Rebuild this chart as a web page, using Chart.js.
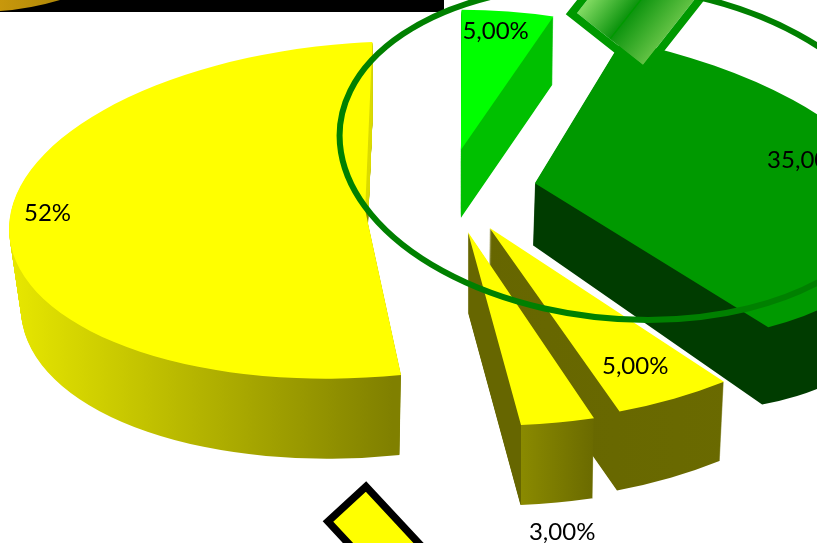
<!DOCTYPE html>
<html>
<head>
<meta charset="utf-8">
<style>
html,body{margin:0;padding:0;background:#fff;overflow:hidden}
#wrap{position:relative;width:817px;height:543px}
</style>
<script src="https://cdn.jsdelivr.net/npm/chart.js@4/dist/chart.umd.js"></script>
</head>
<body>
<div id="wrap"><canvas id="c" width="817" height="543"></canvas></div>
<script>
// ---- data (clockwise from 12 o'clock) ----
const categories = ["Verde claro", "Verde", "Amarillo A", "Amarillo B", "Amarillo C"];
const values = [5, 35, 5, 3, 52];
const valueLabels = ["5,00%", "35,00%", "5,00%", "3,00%", "52%"];

// ---- styles ----
const topColors = ["#00ff00", "#009900", "#ffff00", "#ffff00", "#ffff00"];
const explode = [408, 364, 400, 420, 320];
const paintOrder = [0, 1, 4, 2, 3];
const wallDepth = [68, 62, 79, 80, 80];
const wallStops = [
  [[0, "#00c000"], [900, "#00c000"]],
  [[0, "#003c00"], [900, "#003c00"]],
  [[480, "#666600"], [730, "#6a6a00"]],
  [[468, "#666600"], [520, "#666600"], [520, "#8a8a00"], [596, "#696900"]],
  [[10, "#e8e800"], [400, "#808000"]]
];
const backWall = [null, null, null, null, "#dcdc00"];
// 3D projection of each slice: where the local "right" and "up" unit radii land on screen
const sliceRight = [[301, 0], [361, 26], [385, -8], [408, 5], [356, -15]];
const sliceUp = [[0, -140], [-26, -159], [-11, -196], [-1, -194], [8, -168]];
const sliceNudge = [[0, 0], [0, -1], [-1, 2], [0, 1], [0, 18]];
// same, for the lower rim of each wall (perspective)
const floorRight = [[298, 0], [354, 52], [380, -8], [404, 5], [344, -15]];
const floorShiftX = [0, -2, -1, 0, 0];
const tilt = 0.4;
const baseR = 400;
const edgeTrimRate = 0.00037; // compensates the slight narrowing of offset arcs
const labelRadial = [0.8, 0.77, 0.79, 1.57, 0.89];
const labelNudge = [[-3, -8], [1, -24], [0, 4], [-47, 1], [-1, -19]];
const labelFont = "24px Lato, Carlito, 'Open Sans', sans-serif";

function sliceGeom(arc, i) {
  const half = (arc.startAngle + arc.endAngle) / 2;
  const e = explode[i] / 4;
  const dx = Math.cos(half) * e, dy = Math.sin(half) * e;
  return {
    half, dx, dy, e,
    ax: arc.x + dx + sliceNudge[i][0],
    ay: arc.y + dy * tilt + sliceNudge[i][1]
  };
}

function paintArc(ctx, arc, i, geo, fill, shiftX, shiftY, a) {
  const b = sliceUp[i];
  ctx.save();
  ctx.translate(geo.ax + shiftX, geo.ay + shiftY);
  ctx.transform(a[0] / baseR, a[1] / baseR, -b[0] / baseR, -b[1] / baseR, 0, 0);
  ctx.translate(-(arc.x + geo.dx), -(arc.y + geo.dy));
  const saved = arc.options;
  arc.options = {
    offset: explode[i], spacing: 0, borderWidth: 0, borderAlign: "center", circular: true,
    borderRadius: 0, backgroundColor: fill, borderColor: fill, borderDash: [], borderDashOffset: 0,
    borderJoinStyle: "round"
  };
  arc.draw(ctx);
  arc.options = saved;
  ctx.restore();
}

function wallGradient(ctx, arc, i, geo, ax, shiftX) {
  const stops = wallStops[i];
  const k = baseR / ax;
  const x0 = stops[0][0], x1 = stops[stops.length - 1][0];
  const org = geo.ax + shiftX;
  const g = ctx.createLinearGradient(arc.x + (x0 - org) * k, 0, arc.x + (x1 - org) * k, 0);
  stops.forEach(s => g.addColorStop((s[0] - x0) / (x1 - x0), s[1]));
  return g;
}

function paintWall(ctx, arc, i, geo, solid) {
  const a0 = sliceRight[i], a1 = floorRight[i];
  for (let d = wallDepth[i]; d >= 1; d--) {
    const t = d / wallDepth[i];
    const a = [a0[0] + (a1[0] - a0[0]) * t, a0[1] + (a1[1] - a0[1]) * t];
    const sx = floorShiftX[i] * t;
    const fill = solid || wallGradient(ctx, arc, i, geo, a[0], sx);
    paintArc(ctx, arc, i, geo, fill, sx, d, a);
  }
}

const pie3d = {
  id: "pie3d",
  beforeDatasetDraw(chart) {
    const ctx = chart.ctx;
    const arcs = chart.getDatasetMeta(0).data;
    paintOrder.forEach(i => {
      const arc = arcs[i];
      const circ = arc.circumference;
      const fix = 1 - Math.sin(Math.min(Math.PI, circ));
      const geo = sliceGeom(arc, i);
      const s0 = arc.startAngle, e0 = arc.endAngle;
      const trim = geo.e * fix * edgeTrimRate;
      arc.outerRadius = baseR - geo.e * fix;
      arc.startAngle = s0 - trim;
      arc.endAngle = e0 + trim;
      paintWall(ctx, arc, i, geo, null);
      if (backWall[i]) {
        ctx.save();
        ctx.beginPath();
        ctx.rect(0, 0, chart.width, geo.ay);
        ctx.clip();
        paintWall(ctx, arc, i, geo, backWall[i]);
        ctx.restore();
      }
      paintArc(ctx, arc, i, geo, topColors[i], 0, 0, sliceRight[i]);
      arc.startAngle = s0;
      arc.endAngle = e0;
    });
    return false;
  },
  afterDatasetsDraw(chart) {
    const ctx = chart.ctx;
    const arcs = chart.getDatasetMeta(0).data;
    ctx.save();

    // black bar and gold remnant at top-left
    ctx.fillStyle = "#000";
    ctx.fillRect(0, 0, 444, 12);
    const gold = ctx.createLinearGradient(0, 0, 60, 0);
    gold.addColorStop(0, "#c8980c");
    gold.addColorStop(1, "#b08808");
    ctx.fillStyle = gold;
    ctx.beginPath();
    ctx.moveTo(0, 0);
    ctx.lineTo(60, 0);
    ctx.quadraticCurveTo(30, 9, 0, 11);
    ctx.closePath();
    ctx.fill();

    // green gradient marker at the top
    ctx.save();
    ctx.translate(577, 13);
    ctx.rotate(Math.atan2(52, 66));
    const w = 84, h = 130;
    const mg = ctx.createLinearGradient(0, 0, w, 0);
    mg.addColorStop(0, "#84dc64");
    mg.addColorStop(0.48, "#109610");
    mg.addColorStop(0.52, "#109610");
    mg.addColorStop(1, "#62c244");
    ctx.fillStyle = mg;
    ctx.fillRect(0, -h, w, h);
    ctx.strokeStyle = "#009900";
    ctx.lineWidth = 8;
    ctx.beginPath();
    ctx.moveTo(-4, -h); ctx.lineTo(-4, 4); ctx.lineTo(w + 4, 4); ctx.lineTo(w + 4, -h);
    ctx.stroke();
    ctx.lineWidth = 1.5;
    ctx.beginPath();
    ctx.moveTo(w / 2, -h); ctx.lineTo(w / 2, 0);
    ctx.stroke();
    ctx.restore();

    // tilted ellipse outline
    ctx.save();
    ctx.translate(620, 152.5);
    ctx.transform(279, 0, 28, 167.5, 0, 0);
    ctx.beginPath();
    ctx.arc(0, 0, 1, 0, Math.PI * 2);
    ctx.restore();
    ctx.strokeStyle = "#008000";
    ctx.lineWidth = 6;
    ctx.stroke();

    // yellow marker at the bottom
    ctx.fillStyle = "#ffff00";
    ctx.strokeStyle = "#000";
    ctx.lineWidth = 7.5;
    ctx.lineJoin = "miter";
    ctx.beginPath();
    ctx.moveTo(366, 486.5);
    ctx.lineTo(466, 594);
    ctx.lineTo(428, 629);
    ctx.lineTo(328, 521.5);
    ctx.closePath();
    ctx.fill();
    ctx.stroke();

    // value labels
    ctx.fillStyle = "#000";
    ctx.font = labelFont;
    ctx.textAlign = "center";
    ctx.textBaseline = "middle";
    arcs.forEach((arc, i) => {
      const geo = sliceGeom(arc, i);
      const sx = Math.cos(geo.half), cy = -Math.sin(geo.half);
      const f = labelRadial[i];
      const a = sliceRight[i], b = sliceUp[i];
      const x = geo.ax + f * (a[0] * sx + b[0] * cy) + labelNudge[i][0];
      const y = geo.ay + f * (a[1] * sx + b[1] * cy) + labelNudge[i][1];
      ctx.fillText(valueLabels[i], x, y);
    });
    ctx.restore();
  }
};

new Chart(document.getElementById("c"), {
  type: "pie",
  data: {
    labels: categories,
    datasets: [{
      data: values,
      backgroundColor: topColors,
      borderWidth: 0,
      offset: explode,
      radius: baseR
    }]
  },
  options: {
    responsive: false,
    animation: false,
    events: [],
    rotation: 0,
    layout: { padding: { left: 73, right: 0, top: 0, bottom: 163 } },
    plugins: { legend: { display: false }, tooltip: { enabled: false } }
  },
  plugins: [pie3d]
});
</script>
</body>
</html>
